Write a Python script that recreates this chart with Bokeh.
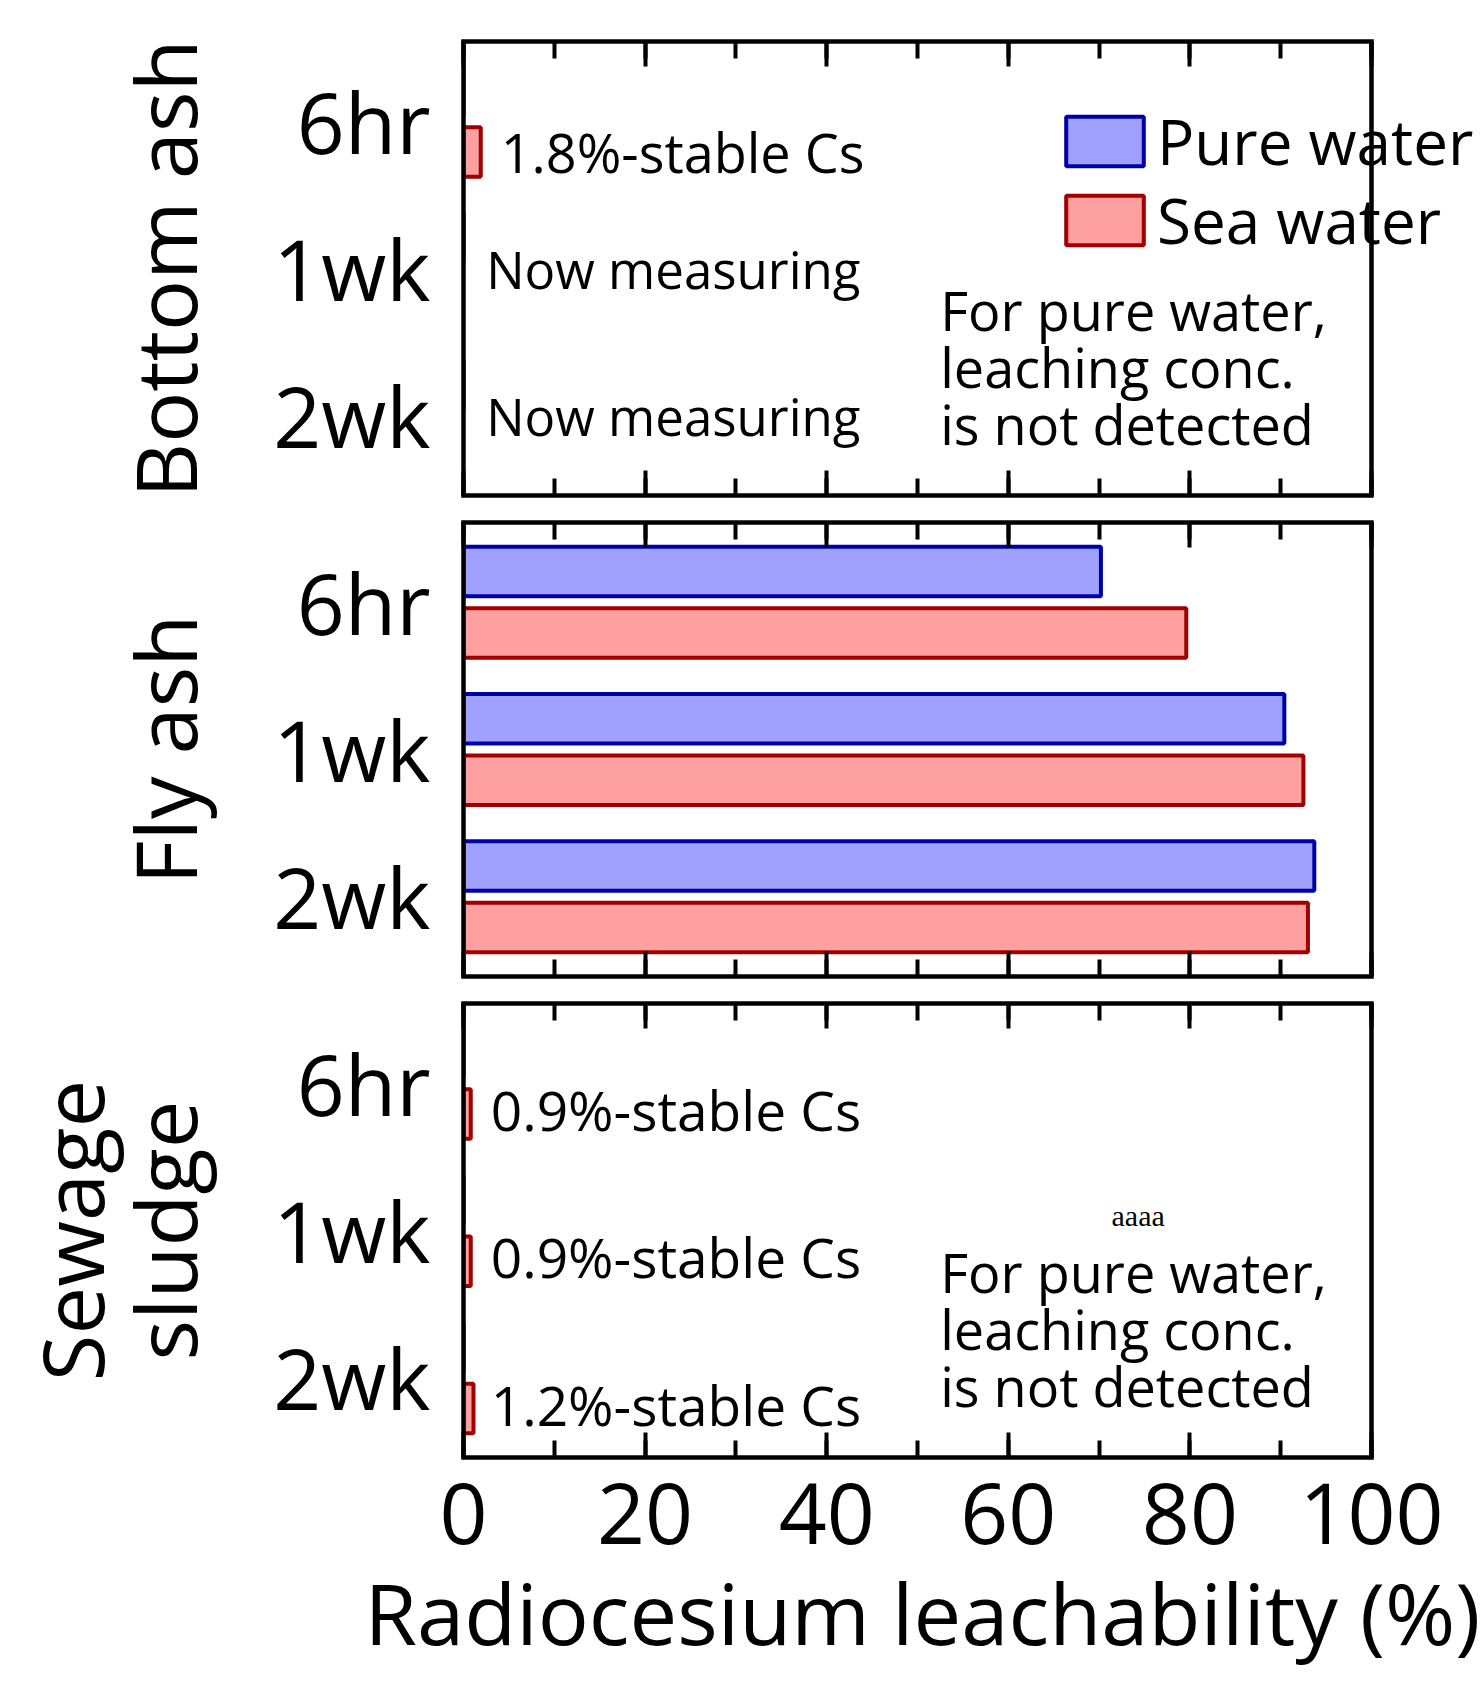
import math
from bokeh.plotting import figure
from bokeh.models import (ColumnDataSource, FactorRange, Range1d, LinearAxis,
                          SingleIntervalTicker, Legend, LegendItem, Span, Title)
from bokeh.transform import dodge
from bokeh.layouts import column
from bokeh.embed import file_html
from bokeh.resources import INLINE
from bokeh.core.properties import value

NAN = float("nan")

# ---------------- data ----------------
times = ["6hr", "1wk", "2wk"]
groups = ["Bottom ash", "Fly ash", "Sewage\nsludge"]
series = ["Pure water", "Sea water"]

pure_bottom = [0.0, 0.0, 0.0]
sea_bottom = [1.9, NAN, NAN]
pure_fly = [70.2, 90.4, 93.7]
sea_fly = [79.6, 92.5, 93.0]
pure_sludge = [0.0, 0.0, 0.0]
sea_sludge = [0.8, 0.8, 1.1]

notes_bottom_cs = ["1.8%-stable Cs"]
notes_bottom_wait = ["Now measuring", "Now measuring"]
notes_sludge = ["0.9%-stable Cs", "0.9%-stable Cs", "1.2%-stable Cs"]
note_pure = "For pure water,\nleaching conc.\nis not detected"
note_stray = "aaaa"

x_min, x_max = 0, 100
x_label = "Radiocesium leachability (%)"

# ---------------- style ----------------
FONT = "Open Sans"
PURE_FILL, PURE_LINE = "#a0a0ff", "#0000a8"
SEA_FILL, SEA_LINE = "#ffa0a0", "#a00000"
BAR_H = 0.337
OFF = 0.209
PX_PER_UNIT = 9.08
LEFT = 463
FRAME_W = 1482 - LEFT
FRAME_H = 454
FRAME_W_DATA = FRAME_W / PX_PER_UNIT
EDGE = 4.5
XLABEL_OFFSET = -99   # left edge of the x title relative to the frame


def style_x_axis(ax, labels):
    ax.ticker = SingleIntervalTicker(interval=20, num_minor_ticks=2)
    ax.bounds = (x_min, x_max)
    ax.axis_line_color = "black"
    ax.axis_line_width = EDGE
    ax.axis_line_cap = "square"
    ax.major_tick_in = 25
    ax.major_tick_out = 0
    ax.minor_tick_in = 17
    ax.minor_tick_out = 0
    ax.major_tick_line_width = 4
    ax.minor_tick_line_width = 4
    ax.major_tick_line_color = "black"
    ax.minor_tick_line_color = "black"
    if labels:
        ax.major_label_text_font = FONT
        ax.major_label_text_font_size = "84px"
        ax.major_label_text_color = "black"
        ax.major_label_standoff = 25
    else:
        ax.major_label_text_font_size = "0px"
        ax.major_label_text_color = None
        ax.major_label_standoff = 0


def make_panel(idx, pure, sea, top, bottom, last):
    cats = list(reversed(times))
    p = figure(y_range=FactorRange(factors=cats, range_padding=0.028),
               x_range=Range1d(x_min, x_min + FRAME_W_DATA),
               frame_width=FRAME_W, frame_height=FRAME_H,
               min_border_left=LEFT, min_border_right=0,
               min_border_top=top, min_border_bottom=bottom,
               output_backend="svg", toolbar_location=None,
               background_fill_color="white", border_fill_color="white")
    p.xgrid.visible = False
    p.ygrid.visible = False
    p.outline_line_color = None

    src = ColumnDataSource(dict(t=times, pure=pure, sea=sea))
    rp = p.hbar(y=dodge("t", OFF, range=p.y_range), left=0, right="pure",
                height=BAR_H, source=src, fill_color=PURE_FILL,
                line_color=PURE_LINE, line_width=4)
    rs = p.hbar(y=dodge("t", -OFF, range=p.y_range), left=0, right="sea",
                height=BAR_H, source=src, fill_color=SEA_FILL,
                line_color=SEA_LINE, line_width=4)

    # right edge of the box at the end of the x axis
    p.add_layout(Span(location=x_max, dimension="height", line_color="black",
                      line_width=EDGE))

    # y axis
    yax = p.yaxis[0]
    yax.axis_line_color = "black"
    yax.axis_line_width = EDGE
    yax.major_tick_line_color = None
    yax.minor_tick_line_color = None
    yax.major_label_text_font = FONT
    yax.major_label_text_font_size = "84px"
    yax.major_label_text_color = "black"
    yax.major_label_standoff = 27
    yax.axis_label = groups[idx]
    yax.axis_label_text_font = FONT
    yax.axis_label_text_font_size = "85px"
    yax.axis_label_text_font_style = "normal"
    yax.axis_label_text_color = "black"
    yax.axis_label_standoff = 48
    yax.axis_label_text_line_height = 0.8

    style_x_axis(p.xaxis[0], last)
    above = LinearAxis()
    style_x_axis(above, False)
    p.add_layout(above, "above")

    if last:
        p.add_layout(Title(text=x_label, align="left", offset=XLABEL_OFFSET,
                           standoff=10, text_font=FONT,
                           text_font_size="85px", text_font_style="normal",
                           text_color="black"), "below")
    return p, rp, rs


p1, rp1, rs1 = make_panel(0, pure_bottom, sea_bottom, 41, 17, False)
p2, _, _ = make_panel(1, pure_fly, sea_fly, 10, 17, False)
p3, _, _ = make_panel(2, pure_sludge, sea_sludge, 10, 229, True)

n = len(times)
center = {t: n - 1 - i + 0.5 for i, t in enumerate(times)}

# panel 1 notes
p1.text(x=[4.1], y=[center["6hr"] - OFF], text=notes_bottom_cs,
        text_font=value(FONT), text_font_size="54px", text_baseline="middle",
        text_align="left", text_color="black")
p1.text(x=[2.5, 2.5], y=[center["1wk"], center["2wk"]], text=notes_bottom_wait,
        text_font=value(FONT), text_font_size="51px", text_baseline="middle",
        text_align="left", text_color="black")

# panel 3 notes
s3 = ColumnDataSource(dict(x=[3.0, 3.0, 3.0],
                           y=[center[t] - OFF + 0.03 for t in times],
                           text=notes_sludge))
p3.text(x="x", y="y", text="text", source=s3, text_font=value(FONT),
        text_font_size="55px", text_baseline="middle", text_align="left",
        text_color="black")

for p in (p1, p3):
    p.text(x=[52.5], y=[center["1wk"] - 0.67], text=[note_pure],
           text_font=value(FONT), text_font_size="54px",
           text_baseline="middle", text_align="left", text_color="black",
           text_line_height=0.775)

p3.text(x=[74.3], y=[center["1wk"] + 0.1], text=[note_stray],
        text_font=value("Liberation Serif"), text_font_size="30px",
        text_baseline="middle", text_align="center", text_color="black")

# legend: one entry per legend box so the rows can sit close together
for label, rend, loc in ((series[0], rp1, (593, 312)),
                         (series[1], rs1, (593, 233))):
    lg = Legend(items=[LegendItem(label=label, renderers=[rend])],
                location=loc, padding=0, margin=0, spacing=0,
                glyph_width=97, glyph_height=62, label_height=62,
                label_standoff=4, label_text_font=FONT,
                label_text_font_size="62px", label_text_color="black",
                background_fill_alpha=0, border_line_alpha=0)
    p1.add_layout(lg, "center")

layout = column(p1, p2, p3, spacing=0)
open("out.html", "w").write(file_html(layout, INLINE))
